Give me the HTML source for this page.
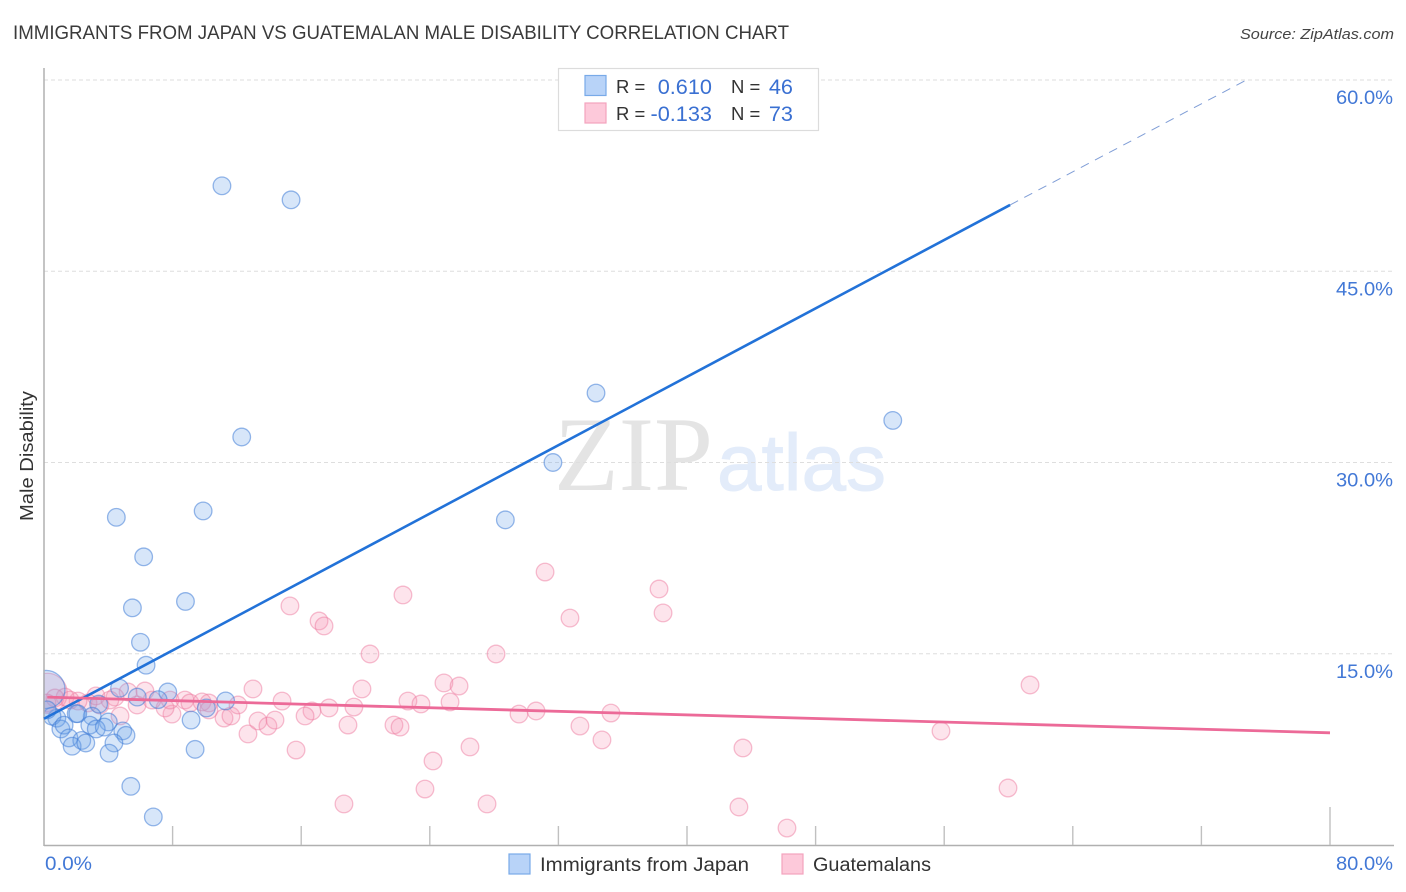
<!DOCTYPE html>
<html lang="en">
<head>
<meta charset="utf-8">
<title>Immigrants from Japan vs Guatemalan Male Disability Correlation Chart</title>
<style>
html,body{margin:0;padding:0;background:#fff;}
svg{display:block;font-family:"Liberation Sans",sans-serif;}
</style>
</head>
<body>
<svg id="chart" width="1406" height="892" viewBox="0 0 1406 892" xmlns="http://www.w3.org/2000/svg">
  <text x="13" y="39" font-size="19" fill="#3a3a3a" textLength="776" lengthAdjust="spacingAndGlyphs">IMMIGRANTS FROM JAPAN VS GUATEMALAN MALE DISABILITY CORRELATION CHART</text>
  <text x="1394" y="39" font-size="15" font-style="italic" fill="#444" text-anchor="end" textLength="154" lengthAdjust="spacingAndGlyphs">Source: ZipAtlas.com</text>
  <g>
    <text x="554" y="490" font-family="'Liberation Serif',serif" font-size="106" fill="#e4e4e4">ZIP</text>
    <text x="717" y="490" font-size="80" fill="#e3ecfa" stroke="#e3ecfa" stroke-width="1">atlas</text>
  </g>
  <g id="grid"></g>
  <g id="points"></g>
  <rect x="0" y="640" width="43" height="120" fill="#ffffff"/>
  <g id="axes"></g>
  <g id="trends"></g>
  <text transform="translate(33,456) rotate(-90)" font-size="18" fill="#333" text-anchor="middle" textLength="130" lengthAdjust="spacingAndGlyphs">Male Disability</text>

  <g>
    <rect x="558.5" y="68.5" width="260" height="62" fill="#fff" stroke="#dcdcdc" stroke-width="1.2"/>
    <rect x="585" y="75.5" width="21" height="20" fill="#b8d3f8" stroke="#78aae8" stroke-width="1.2"/>
    <rect x="585" y="103" width="21" height="20" fill="#fdc9da" stroke="#f3a3bd" stroke-width="1.2"/>
    <g font-size="18.5" fill="#333">
      <text x="616" y="93">R =</text>
      <text x="616" y="120">R =</text>
      <text x="731" y="93">N =</text>
      <text x="731" y="120">N =</text>
    </g>
    <g font-size="21.7" fill="#3a70d2" text-anchor="end">
      <text x="712" y="94">0.610</text>
      <text x="712" y="121">-0.133</text>
      <text x="793" y="94">46</text>
      <text x="793" y="121">73</text>
    </g>
  </g>

  <g>
    <g>
      <rect x="509" y="854" width="21" height="20" fill="#b8d3f8" stroke="#78aae8" stroke-width="1.2"/>
      <text x="540" y="871" font-size="19" fill="#333" textLength="209" lengthAdjust="spacingAndGlyphs">Immigrants from Japan</text>
    </g>
    <g>
      <rect x="782" y="854" width="21" height="20" fill="#fdc9da" stroke="#f3a3bd" stroke-width="1.2"/>
      <text x="813" y="871" font-size="19" fill="#333" textLength="118" lengthAdjust="spacingAndGlyphs">Guatemalans</text>
    </g>
  </g>
</svg>
<script>
const yTickValues = [15, 30, 45, 60];
const yTickLabels = ['15.0%', '30.0%', '45.0%', '60.0%'];
const xTickValues = [8, 16, 24, 32, 40, 48, 56, 64, 72, 80];
const xEndValues = [0, 80];
const xEndLabels = ['0.0%', '80.0%'];

const japanX = [0, 11.07, 15.37, 34.34, 52.8, 12.3, 31.66, 9.9, 4.5, 28.7, 6.2, 8.8, 5.5, 6.0, 6.35, 4.7, 7.7, 5.8, 7.1, 11.3, 10.1, 3.4, 3.0, 9.15, 4.0, 2.0, 2.1, 0.8, 0.5, 0.2, 1.05, 1.25, 2.85, 3.25, 3.75, 4.9, 5.1, 1.55, 2.35, 1.75, 2.6, 4.35, 9.4, 4.05, 5.4, 6.8];
const japanY = [12.2, 51.7, 50.6, 35.45, 33.3, 32.0, 30.0, 26.2, 25.7, 25.5, 22.6, 19.1, 18.6, 15.9, 14.1, 12.3, 12.0, 11.6, 11.4, 11.3, 10.75, 11.05, 10.1, 9.8, 9.65, 10.3, 10.3, 9.95, 10.1, 10.6, 9.1, 9.4, 9.4, 9.1, 9.25, 8.95, 8.6, 8.4, 8.2, 7.75, 8.0, 8.0, 7.5, 7.2, 4.6, 2.2];

const guatemalanX = [0.2, 31.17, 22.33, 38.26, 38.51, 32.72, 15.3, 17.11, 17.42, 20.28, 28.12, 61.34, 24.88, 25.82, 19.78, 13.0, 22.64, 23.45, 25.26, 14.81, 17.73, 16.67, 16.24, 19.28, 29.55, 30.61, 35.27, 21.77, 22.15, 18.91, 33.34, 34.71, 55.8, 43.48, 26.5, 15.68, 24.2, 23.7, 18.66, 27.56, 43.23, 59.97, 46.22, 12.69, 13.31, 13.93, 14.37, 11.2, 11.63, 10.26, 12.07, 7.96, 7.53, 5.79, 4.73, 5.23, 6.28, 4.42, 3.48, 2.74, 2.12, 1.31, 0.68, 6.72, 7.84, 8.77, 9.08, 9.83, 10.26, 0.19, 1.62, 3.23, 4.1];
const guatemalanY = [11.9, 21.41, 19.61, 20.08, 18.2, 17.8, 18.75, 17.57, 17.18, 14.98, 14.98, 12.55, 12.71, 12.47, 12.24, 12.24, 11.29, 11.06, 11.22, 11.29, 10.75, 10.51, 10.12, 10.82, 10.27, 10.51, 10.35, 9.41, 9.25, 9.41, 9.33, 8.24, 8.94, 7.61, 7.69, 7.45, 6.59, 4.39, 3.22, 3.22, 2.98, 4.47, 1.33, 8.71, 9.73, 9.33, 9.8, 9.96, 10.12, 11.14, 10.98, 10.27, 10.75, 10.98, 10.12, 12.0, 12.08, 11.6, 10.98, 11.14, 11.29, 11.6, 11.53, 11.37, 11.37, 11.37, 11.14, 11.22, 10.59, 11.14, 11.37, 11.69, 11.37];

const japanTrendX = [0, 60.1];
const japanTrendY = [9.9, 50.2];
const japanExtensionX = [60.1, 74.8];
const japanExtensionY = [50.2, 60];
const guatemalanTrendX = [0.2, 80];
const guatemalanTrendY = [11.6, 8.8];

const NS = 'http://www.w3.org/2000/svg';
const PLOT_LEFT = 44;
function xScale(v) { return PLOT_LEFT + v * (1330 - PLOT_LEFT) / 80; }
function yScale(v) { return 845 - v * (845 - 80) / 60; }
function make(tag, attrs, parent) {
  const el = document.createElementNS(NS, tag);
  for (const k in attrs) el.setAttribute(k, attrs[k]);
  parent.appendChild(el);
  return el;
}
/* A point: full circle, or only the part inside the plot area when it crosses the y axis */
function bubble(cx, cy, r, style, parent) {
  if (cx - r >= PLOT_LEFT) {
    return make('circle', Object.assign({cx: cx, cy: cy, r: r}, style), parent);
  }
  const dx = PLOT_LEFT - cx;
  const dy = Math.sqrt(r * r - dx * dx);
  const d = 'M' + PLOT_LEFT + ' ' + (cy - dy) + ' A' + r + ' ' + r + ' 0 1 1 ' + PLOT_LEFT + ' ' + (cy + dy) + ' Z';
  return make('path', Object.assign({d: d}, style), parent);
}

const grid = document.getElementById('grid');
const axes = document.getElementById('axes');
const pts = document.getElementById('points');
const trends = document.getElementById('trends');

yTickValues.forEach((v, i) => {
  const line = make('line', {x1: 44, x2: 1394, y1: yScale(v), y2: yScale(v), stroke: '#dedede', 'stroke-width': 1, 'stroke-dasharray': '4 3'}, grid);
  
  
  const label = make('text', {x: 1393, y: yScale(v) + 24, 'font-size': 19.5, fill: '#4278d6', 'text-anchor': 'end', textLength: 57, lengthAdjust: 'spacingAndGlyphs'}, axes);
  label.textContent = yTickLabels[i];
  
  
});

const yAxis = make('line', {x1: 44, x2: 44, y1: 68, y2: 846, stroke: '#b0b0b0', 'stroke-width': 1.5}, axes);


const xAxis = make('line', {x1: 44, x2: 1394, y1: 845.5, y2: 845.5, stroke: '#b0b0b0', 'stroke-width': 1.5}, axes);



xTickValues.forEach((v, i) => {
  const top = i === xTickValues.length - 1 ? 807 : 826;
  const tick = make('line', {x1: xScale(v), x2: xScale(v), y1: top, y2: 845, stroke: '#c0c0c0', 'stroke-width': 1.4}, axes);
  
  
});
xEndValues.forEach((v, i) => {
  const label = make('text', {x: i === 0 ? xScale(v) + 1 : 1393, y: 870, 'font-size': 19.5, fill: '#4278d6', 'text-anchor': i === 0 ? 'start' : 'end', textLength: i === 0 ? 47 : 57, lengthAdjust: 'spacingAndGlyphs'}, axes);
  label.textContent = xEndLabels[i];
  
  
});

const pinkStyle = {fill: 'rgba(247,150,182,0.26)', stroke: 'rgba(238,125,162,0.5)', 'stroke-width': 1.3};
const blueStyle = {fill: 'rgba(110,165,235,0.28)', stroke: 'rgba(65,125,215,0.55)', 'stroke-width': 1.3};

guatemalanX.forEach((v, i) => {
  const c = bubble(xScale(v), yScale(guatemalanY[i]), i === 0 ? 20 : 8.8, pinkStyle, pts);
  
  
});
japanX.forEach((v, i) => {
  const c = bubble(xScale(v) + (i === 0 ? 2 : 0), yScale(japanY[i]), i === 0 ? 19 : 8.8, blueStyle, pts);
  
  
});

const ext = make('line', {x1: xScale(japanExtensionX[0]), y1: yScale(japanExtensionY[0]), x2: xScale(japanExtensionX[1]), y2: yScale(japanExtensionY[1]), stroke: '#7f9dd6', 'stroke-width': 1, 'stroke-dasharray': '9 7'}, trends);


const blueLine = make('line', {x1: xScale(japanTrendX[0]), y1: yScale(japanTrendY[0]), x2: xScale(japanTrendX[1]), y2: yScale(japanTrendY[1]), stroke: '#2272d8', 'stroke-width': 2.6}, trends);


const pinkLine = make('line', {x1: xScale(guatemalanTrendX[0]), y1: yScale(guatemalanTrendY[0]), x2: xScale(guatemalanTrendX[1]), y2: yScale(guatemalanTrendY[1]), stroke: '#ec6a98', 'stroke-width': 2.8}, trends);


</script>
</body>
</html>
